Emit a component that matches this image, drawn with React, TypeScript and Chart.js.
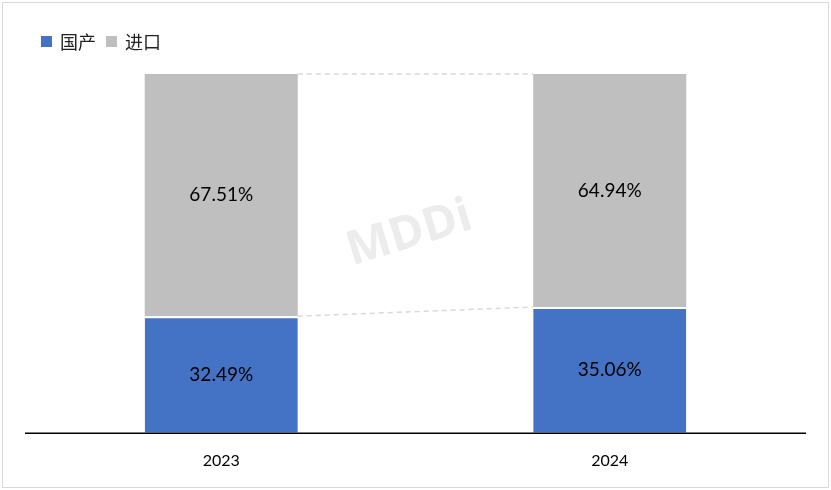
import React, { useEffect, useRef } from "react";
import { Chart, registerables } from "chart.js";

Chart.register(...registerables);

const categories = ["2023", "2024"];
const domesticShare = [32.49, 35.06];
const importShare = [67.51, 64.94];
const seriesNames = ["国产", "进口"];
const seriesColors = ["#4472C4", "#BFBFBF"];
const watermarkText = "MDDi";

const overlayPlugin = {
  id: "overlay",
  beforeDatasetsDraw(chart: any) {
    const ctx = chart.ctx;
    const area = chart.chartArea;
    ctx.save();
    ctx.translate((area.left + area.right) / 2 - 6, area.top + 160);
    ctx.rotate((-17 * Math.PI) / 180);
    ctx.fillStyle = "#ECECEC";
    ctx.font = "bold 47px 'Open Sans', sans-serif";
    ctx.textAlign = "center";
    ctx.textBaseline = "middle";
    ctx.fillText(watermarkText, 0, 0);
    ctx.restore();
  },
  afterDatasetsDraw(chart: any) {
    const ctx = chart.ctx;
    const metaB = chart.getDatasetMeta(0);
    const metaG = chart.getDatasetMeta(1);
    ctx.save();
    ctx.strokeStyle = "#D9D9D9";
    ctx.lineWidth = 1.5;
    ctx.setLineDash([5, 4]);
    [metaB, metaG].forEach((meta: any) => {
      const a = meta.data[0];
      const b = meta.data[1];
      ctx.beginPath();
      ctx.moveTo(a.x + a.width / 2, a.y);
      ctx.lineTo(b.x - b.width / 2, b.y);
      ctx.stroke();
    });
    ctx.setLineDash([]);
    const area = chart.chartArea;
    ctx.strokeStyle = "#000";
    ctx.lineWidth = 1.5;
    ctx.beginPath();
    ctx.moveTo(area.left - 2, area.bottom + 0.5);
    ctx.lineTo(area.right + 2, area.bottom + 0.5);
    ctx.stroke();
    ctx.fillStyle = "#000";
    ctx.font = "19px Lato, 'Open Sans', sans-serif";
    ctx.textAlign = "center";
    ctx.textBaseline = "middle";
    [metaB, metaG].forEach((meta: any, di: number) => {
      const vals = di === 0 ? domesticShare : importShare;
      meta.data.forEach((el: any, i: number) => {
        ctx.fillText(vals[i].toFixed(2) + "%", el.x, (el.y + el.base) / 2);
      });
    });
    ctx.restore();
  },
};

export default function App() {
  const ref = useRef<HTMLCanvasElement>(null);
  useEffect(() => {
    const chart = new Chart(ref.current!, {
      type: "bar",
      data: {
        labels: categories,
        datasets: [
          {
            label: seriesNames[0],
            data: domesticShare,
            backgroundColor: seriesColors[0],
            borderColor: "#FFFFFF",
            borderWidth: { top: 2, left: 0, right: 0, bottom: 0 },
            borderSkipped: false,
            barPercentage: 0.394,
            categoryPercentage: 1,
          },
          {
            label: seriesNames[1],
            data: importShare,
            backgroundColor: seriesColors[1],
            borderWidth: 0,
            barPercentage: 0.394,
            categoryPercentage: 1,
          },
        ],
      },
      options: {
        responsive: false,
        animation: false,
        layout: { padding: { left: 27, right: 27, top: 74, bottom: 2 } },
        plugins: { legend: { display: false }, tooltip: { enabled: false } },
        scales: {
          x: {
            stacked: true,
            grid: { display: false, drawTicks: false },
            border: { display: false },
            ticks: {
              color: "#000",
              font: { family: "Lato, 'Open Sans', sans-serif", size: 16 },
              padding: 18,
            },
          },
          y: {
            stacked: true,
            display: false,
            min: 0,
            max: 100,
          },
        },
      },
      plugins: [overlayPlugin],
    });
    return () => chart.destroy();
  }, []);

  const legendText: React.CSSProperties = {
    fontFamily: "'Noto Sans CJK SC', sans-serif",
    fontSize: 18,
    color: "#222",
    lineHeight: "20px",
  };
  const sq = (c: string): React.CSSProperties => ({
    display: "inline-block",
    width: 11,
    height: 11,
    background: c,
    marginRight: 8,
  });

  return (
    <div style={{ position: "fixed", left: 0, top: 0, width: 831, height: 490, background: "#fff" }}>
      <div
        style={{
          position: "absolute",
          left: 2,
          top: 2,
          width: 825,
          height: 484,
          border: "1px solid #D9D9D9",
        }}
      />
      <canvas ref={ref} width={831} height={490} style={{ position: "absolute", left: 0, top: 0 }} />
      <div style={{ position: "absolute", left: 41, top: 31, display: "flex", alignItems: "center", ...legendText }}>
        <span style={sq(seriesColors[0])} />
        <span style={{ marginRight: 10 }}>{seriesNames[0]}</span>
        <span style={sq(seriesColors[1])} />
        <span>{seriesNames[1]}</span>
      </div>
    </div>
  );
}
